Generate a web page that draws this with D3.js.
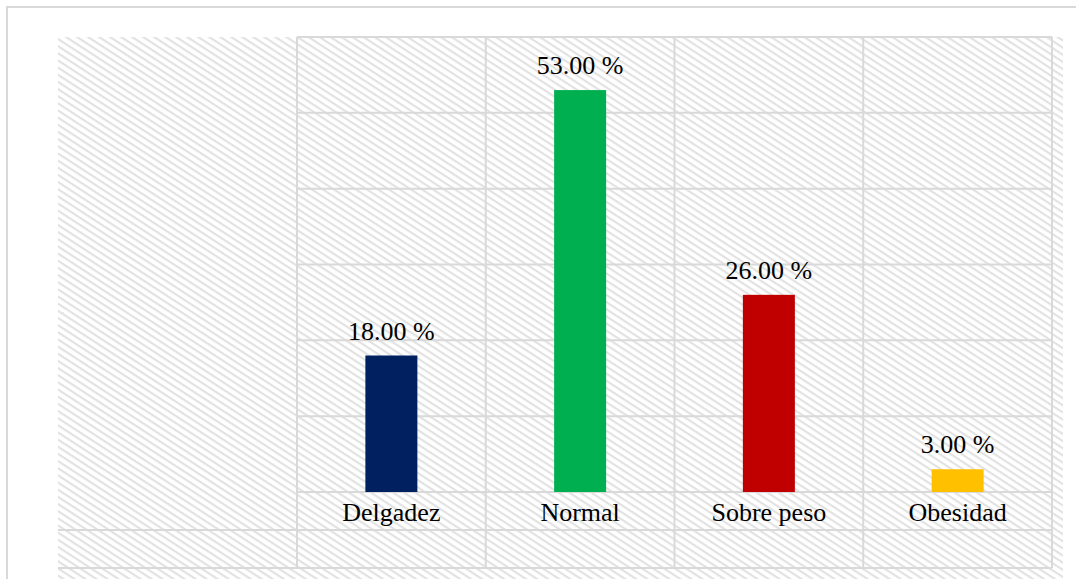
<!DOCTYPE html>
<html>
<head>
<meta charset="utf-8">
<script src="https://cdn.jsdelivr.net/npm/d3@7"></script>
<style>
  body { margin: 0; background: #fff; }
  svg { display: block; }
  text { font-family: "Liberation Serif", "Times New Roman", serif; fill: #000; }
</style>
</head>
<body>
<div id="graph"></div>
<script>
const categories = ['Delgadez', 'Normal', 'Sobre peso', 'Obesidad'];
const values = [18, 53, 26, 3];
const colors = ['#002060', '#00b050', '#c00000', '#ffc000'];
const yMax = 60;
const yStep = 10;

const w = 1076;
const h = 579;
const table_left = 58;
const plot_left = 297;
const plot_right = 1052;
const plot_top = 37;
const plot_bottom = 492;
const row_h = 38;
const grid_color = '#d9d9d9';
const font_size = 26;

const svg = d3.select('#graph').append('svg')
  .attr('width', w)
  .attr('height', h);

// hatch pattern for the background
const pattern = svg.append('defs').append('pattern')
  .attr('id', 'hatch')
  .attr('patternUnits', 'userSpaceOnUse')
  .attr('width', 12)
  .attr('height', 6)
  .attr('patternTransform', 'rotate(33)');
pattern.append('rect')
  .attr('x', 0).attr('y', 0)
  .attr('width', 12).attr('height', 2.2)
  .attr('fill', '#e2e2e2');

// outer frame
svg.append('rect')
  .attr('x', 7).attr('y', 7)
  .attr('width', w + 10).attr('height', h + 10)
  .attr('fill', 'none')
  .attr('stroke', grid_color)
  .attr('stroke-width', 2);

svg.append('rect')
  .attr('x', table_left).attr('y', plot_top)
  .attr('width', 1063 - table_left).attr('height', h - plot_top)
  .attr('fill', 'url(#hatch)');

const xScale = d3.scaleBand()
  .domain(categories)
  .range([plot_left, plot_right])
  .paddingInner(0.7245)
  .paddingOuter(0.7245 / 2);

const yScale = d3.scaleLinear()
  .domain([0, yMax])
  .range([plot_bottom, plot_top]);

const step = xScale.step();
const grid = svg.append('g')
  .attr('stroke', grid_color)
  .attr('stroke-width', 2);

// horizontal grid lines (value rows)
grid.selectAll('line.h')
  .data(d3.range(0, yMax + yStep, yStep))
  .enter()
  .append('line')
  .attr('x1', plot_left)
  .attr('x2', plot_right)
  .attr('y1', d => yScale(d))
  .attr('y2', d => yScale(d));

// table rows below the axis
grid.selectAll('line.t')
  .data([1, 2])
  .enter()
  .append('line')
  .attr('x1', table_left)
  .attr('x2', plot_right)
  .attr('y1', d => plot_bottom + d * row_h)
  .attr('y2', d => plot_bottom + d * row_h);

// vertical column lines
grid.selectAll('line.v')
  .data(d3.range(categories.length + 1))
  .enter()
  .append('line')
  .attr('x1', d => plot_left + d * step)
  .attr('x2', d => plot_left + d * step)
  .attr('y1', plot_top)
  .attr('y2', plot_bottom + 2 * row_h);

// bars
svg.selectAll('rect.bar')
  .data(values)
  .enter()
  .append('rect')
  .attr('class', 'bar')
  .attr('x', (d, i) => xScale(categories[i]))
  .attr('y', d => yScale(d))
  .attr('width', xScale.bandwidth())
  .attr('height', d => yScale(0) - yScale(d))
  .attr('fill', (d, i) => colors[i]);

// value labels
svg.selectAll('text.val')
  .data(values)
  .enter()
  .append('text')
  .attr('x', (d, i) => xScale(categories[i]) + xScale.bandwidth() / 2)
  .attr('y', d => yScale(d) - 16)
  .attr('text-anchor', 'middle')
  .attr('font-size', font_size)
  .text(d => d.toFixed(2) + ' %');

// category labels
svg.selectAll('text.cat')
  .data(categories)
  .enter()
  .append('text')
  .attr('x', d => xScale(d) + xScale.bandwidth() / 2)
  .attr('y', plot_bottom + 29)
  .attr('text-anchor', 'middle')
  .attr('font-size', font_size)
  .text(d => d);
</script>
</body>
</html>
